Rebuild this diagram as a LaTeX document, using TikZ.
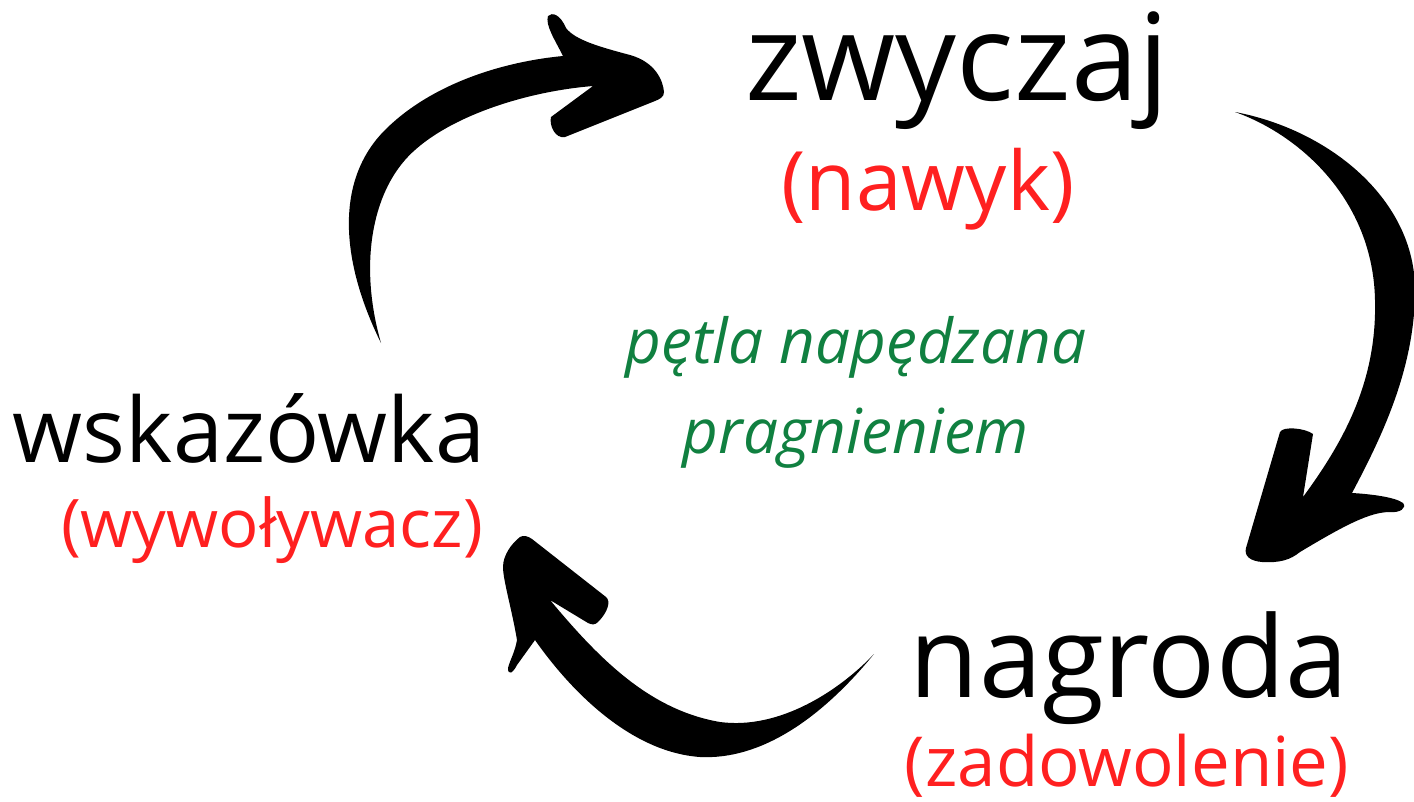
\documentclass[tikz,border=0pt]{standalone}
\usepackage{fontspec}
\setmainfont{Open Sans}
\definecolor{labelred}{RGB}{255,32,32}
\definecolor{loopgreen}{RGB}{16,128,64}
\begin{document}
\begin{tikzpicture}[x=1pt,y=-1pt,
  stage/.style={inner sep=0pt, anchor=base, text=black},
  gloss/.style={inner sep=0pt, anchor=base, text=labelred},
  note/.style={inner sep=0pt, anchor=base, text=loopgreen, font=\fontsize{62}{74}\selectfont\itshape},
  brush/.style={fill=black, draw=none}]
\useasboundingbox (0,0) rectangle (1414,801);

% stage labels
\node[stage, font=\fontsize{121}{140}\selectfont] (habit) at (957,100) {zwyczaj};
\node[gloss, font=\fontsize{82}{96}\selectfont] (habitnote) at (928,210) {(nawyk)};
\node[stage, font=\fontsize{90}{106}\selectfont] (cue) at (249,462) {wskazówka};
\node[gloss, font=\fontsize{67}{80}\selectfont] (cuenote) at (272,547) {(wywoływacz)};
\node[stage, font=\fontsize{113}{134}\selectfont] (reward) at (1129,697) {nagroda};
\node[gloss, font=\fontsize{69}{82}\selectfont] (rewardnote) at (1127,786) {(zadowolenie)};
\node[note] (loop1) at (856,363) {pętla napędzana};
\node[note] (loop2) at (856,453) {pragnieniem};

% brush arrow: cue -> habit
\path[brush] (381,343) .. controls (340,260) and (335,180) .. (385,130)
  .. controls (430,85) and (500,62) .. (563,56)
  .. controls (555,40) and (545,25) .. (548,16) .. controls (552,12) and (560,14) .. (566,28)
  .. controls (575,40) and (600,47) .. (630,55) .. controls (655,62) and (663,80) .. (664,92)
  .. controls (664,97) and (660,99) .. (655,101) -- (565,137)
  .. controls (555,139) and (549,125) .. (551,117) -- (593,86)
  .. controls (520,92) and (440,120) .. (405,160)
  .. controls (370,200) and (360,270) .. (381,343) -- cycle;

% brush arrow: habit -> reward
\path[brush] (1235,112) .. controls (1330,130) and (1415,200) .. (1415,290)
  .. controls (1415,370) and (1380,440) .. (1352,493)
  .. controls (1370,494) and (1395,497) .. (1403,503) .. controls (1407,508) and (1400,513) .. (1390,512)
  .. controls (1370,512) and (1345,525) .. (1300,552) .. controls (1290,560) and (1280,563) .. (1262,562)
  .. controls (1250,561) and (1244,556) .. (1246,548) -- (1280,432)
  .. controls (1283,426) and (1305,428) .. (1313,434) -- (1303,497)
  .. controls (1345,440) and (1377,380) .. (1375,300)
  .. controls (1373,200) and (1300,135) .. (1235,112) -- cycle;

% brush arrow: reward -> cue
\path[brush] (874,654) .. controls (820,720) and (760,760) .. (700,757)
  .. controls (630,752) and (570,690) .. (535,640)
  -- (517,665) .. controls (513,673) and (508,676) .. (508,668) .. controls (510,660) and (515,652) .. (517,640)
  .. controls (512,610) and (503,580) .. (503,567) .. controls (503,555) and (512,543) .. (520,537)
  .. controls (523,535) and (528,536) .. (532,539) -- (606,597)
  .. controls (611,601) and (608,612) .. (598,622) .. controls (595,625) and (592,625) .. (588,623) -- (550,600)
  .. controls (600,660) and (650,710) .. (720,722)
  .. controls (780,730) and (840,690) .. (874,654) -- cycle;
\end{tikzpicture}
\end{document}
